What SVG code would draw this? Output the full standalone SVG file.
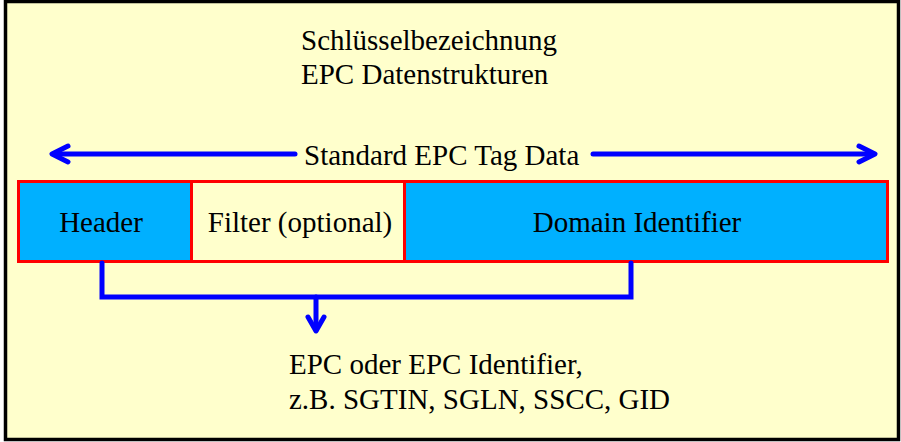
<svg xmlns="http://www.w3.org/2000/svg" width="901" height="442" viewBox="0 0 901 442">
  <style>
    .mid { text-anchor: middle; }
    .field { stroke: #FF0000; stroke-width: 3; }
    .blue { fill: #00B0FF; }
    .plain { fill: #FFFFCC; }
    .wire { fill: none; stroke: #0000FF; stroke-width: 5; stroke-linecap: round; stroke-linejoin: miter; }
    .head { fill: none; stroke: #0000FF; stroke-width: 5; stroke-linecap: round; stroke-linejoin: round; }
  </style>

  <!-- frame -->
  <rect x="5.5" y="1.5" width="893" height="438" fill="#FFFFCC" stroke="#000" stroke-width="3.5"/>

  <g font-family="Liberation Serif, Times New Roman, serif" font-size="29" fill="#000">
    <!-- title -->
    <g id="title">
      <text x="301" y="50">Schlüsselbezeichnung</text>
      <text x="301" y="84">EPC Datenstrukturen</text>
    </g>

    <!-- fields of the tag data -->
    <g id="header">
      <rect class="field blue" x="18.5" y="181.5" width="173" height="80"/>
      <text class="mid" x="101" y="232">Header</text>
    </g>
    <g id="filter">
      <rect class="field plain" x="191.5" y="181.5" width="213" height="80"/>
      <text class="mid" x="300" y="232">Filter (optional)</text>
    </g>
    <g id="domain">
      <rect class="field blue" x="404.5" y="181.5" width="483" height="80"/>
      <text class="mid" x="637" y="232">Domain Identifier</text>
    </g>

    <!-- span label -->
    <g id="span-label">
      <text x="304" y="165">Standard EPC Tag Data</text>
    </g>

    <!-- result label -->
    <g id="result">
      <text x="289" y="374">EPC oder EPC Identifier,</text>
      <text x="289" y="409">z.B. SGTIN, SGLN, SSCC, GID</text>
    </g>
  </g>

  <g id="connectors">
    <!-- span arrows -->
    <line class="wire" x1="295" y1="154" x2="54" y2="154"/>
    <polyline class="head" points="68,146 52,154 68,162"/>
    <line class="wire" x1="593" y1="154" x2="872" y2="154"/>
    <polyline class="head" points="859,146 875,154 859,162"/>

    <!-- bracket from header and domain identifier -->
    <polyline class="wire" points="102,263 102,297 631,297 631,263"/>
    <line class="wire" x1="316" y1="297" x2="316" y2="330"/>
    <polyline class="head" points="308,317 316,331 324,317"/>
  </g>
</svg>
